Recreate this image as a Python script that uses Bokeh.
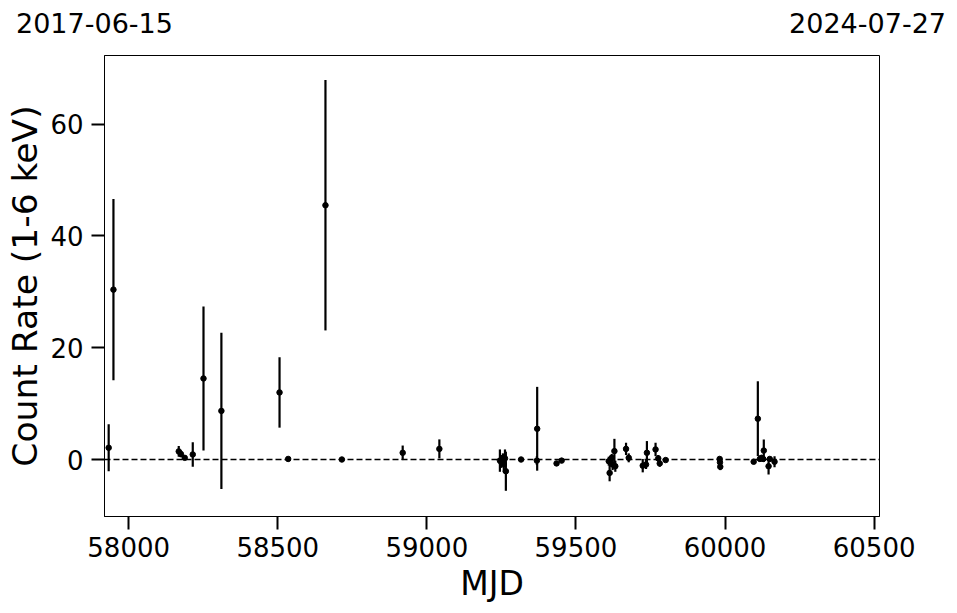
from bokeh.plotting import figure
from bokeh.models import ColumnDataSource, Range1d, FixedTicker, Span, Div
from bokeh.layouts import column
from bokeh.embed import file_html
from bokeh.resources import INLINE

# ---- data ----
mjd = [57933, 57949, 58168, 58175, 58188, 58215, 58251, 58311, 58506, 58535,
       58660, 58715, 58919, 59042, 59245, 59250, 59255, 59258, 59262, 59265,
       59316, 59369, 59370, 59435, 59452, 59610, 59613, 59620, 59623, 59629,
       59632, 59668, 59677, 59724, 59735, 59738, 59767, 59776, 59781, 59801,
       59982, 59983, 59984, 60096, 60110, 60117, 60122, 60128, 60130, 60146,
       60150, 60166]
rate = [2.1, 30.4, 1.45, 1.0, 0.3, 0.9, 14.5, 8.7, 12.0, 0.1,
        45.5, 0.0, 1.2, 1.9, -0.2, -0.5, 0.3, -0.8, 0.2, -2.1,
        0.0, -0.2, 5.5, -0.7, -0.2, -0.3, -2.4, 0.3, -0.9, 1.5,
        -1.2, 1.9, 0.3, -1.1, -0.9, 1.2, 1.8, 0.2, -0.7, -0.1,
        0.1, -0.5, -1.3, -0.4, 7.3, 0.1, 0.3, 0.1, 1.6, -1.2,
        0.1, -0.4]
err = [4.2, 16.2, 0.95, 0.6, 0.3, 2.2, 12.9, 14.0, 6.3, 0.2,
       22.4, 0.2, 1.3, 1.7, 2.0, 1.0, 0.8, 1.5, 1.6, 3.5,
       0.3, 0.8, 7.5, 0.4, 0.3, 0.8, 1.5, 0.7, 1.0, 2.2,
       1.0, 1.1, 0.8, 1.2, 0.8, 2.1, 1.2, 0.6, 0.6, 0.3,
       0.4, 0.5, 0.6, 0.3, 6.7, 0.3, 0.3, 0.3, 2.0, 1.5,
       0.4, 1.0]

x_ticks = [58000, 58500, 59000, 59500, 60000, 60500]
y_ticks = [0, 20, 40, 60]
start_date = "2017-06-15"
end_date = "2024-07-27"
x_start, x_end = 57919, 60518
y_start, y_end = -10.2, 72.3

FONT = "DejaVu Sans"
W = 949
TOP_H = 55
MAIN_H = 550

# ---- header strip with the two dates ----
span_style = ("position:absolute; top:10px; font-family:'DejaVu Sans'; "
              "font-size:27px; line-height:27px; color:black; white-space:nowrap;")
html = (f'<div style="position:relative; width:{W}px; height:{TOP_H}px; margin:0; padding:0;">'
        f'<span style="{span_style} left:16px;">{start_date}</span>'
        f'<span style="{span_style} right:3px;">{end_date}</span>'
        '</div>')
header = Div(text=html, width=W, height=TOP_H, margin=0)

# ---- main light-curve plot ----
lo = [r - e for r, e in zip(rate, err)]
hi = [r + e for r, e in zip(rate, err)]
src = ColumnDataSource(dict(x=mjd, y=rate, lo=lo, hi=hi))

p = figure(width=W, height=MAIN_H, output_backend="svg", toolbar_location=None,
           x_range=Range1d(x_start, x_end), y_range=Range1d(y_start, y_end),
           min_border_left=104, min_border_right=70, min_border_top=0,
           min_border_bottom=88)

p.xgrid.visible = False
p.ygrid.visible = False
p.background_fill_color = "white"
p.border_fill_color = "white"
p.outline_line_color = "black"
p.outline_line_width = 1

for ax in (p.xaxis[0], p.yaxis[0]):
    ax.axis_line_color = "black"
    ax.axis_line_width = 1
    ax.major_tick_in = 0
    ax.major_tick_out = 13
    ax.major_tick_line_width = 2
    ax.major_tick_line_color = "black"
    ax.minor_tick_in = 0
    ax.minor_tick_out = 0
    ax.major_label_text_font = FONT
    ax.major_label_text_font_size = "26px"
    ax.major_label_text_color = "black"
    ax.axis_label_text_font = FONT
    ax.axis_label_text_font_style = "normal"
    ax.axis_label_text_color = "black"

p.xaxis.axis_label_text_font_size = "33px"
p.yaxis.axis_label_text_font_size = "34.5px"
p.xaxis.ticker = FixedTicker(ticks=x_ticks)
p.yaxis.ticker = FixedTicker(ticks=y_ticks)
p.xaxis.axis_label = "MJD"
p.yaxis.axis_label = "Count Rate (1-6 keV)"
p.xaxis.major_label_standoff = 7
p.yaxis.major_label_standoff = 8
p.xaxis.axis_label_standoff = 4
p.yaxis.axis_label_standoff = 2

p.add_layout(Span(location=0, dimension="width", line_color="black",
                  line_width=1.4, line_dash="6 3"))

p.segment(x0="x", y0="lo", x1="x", y1="hi", source=src,
          line_color="black", line_width=2.2)
p.scatter(x="x", y="y", source=src, size=5.5, marker="circle",
          fill_color="black", line_color="black")

layout = column(header, p, spacing=0)
open("out.html", "w").write(file_html(layout, INLINE))
